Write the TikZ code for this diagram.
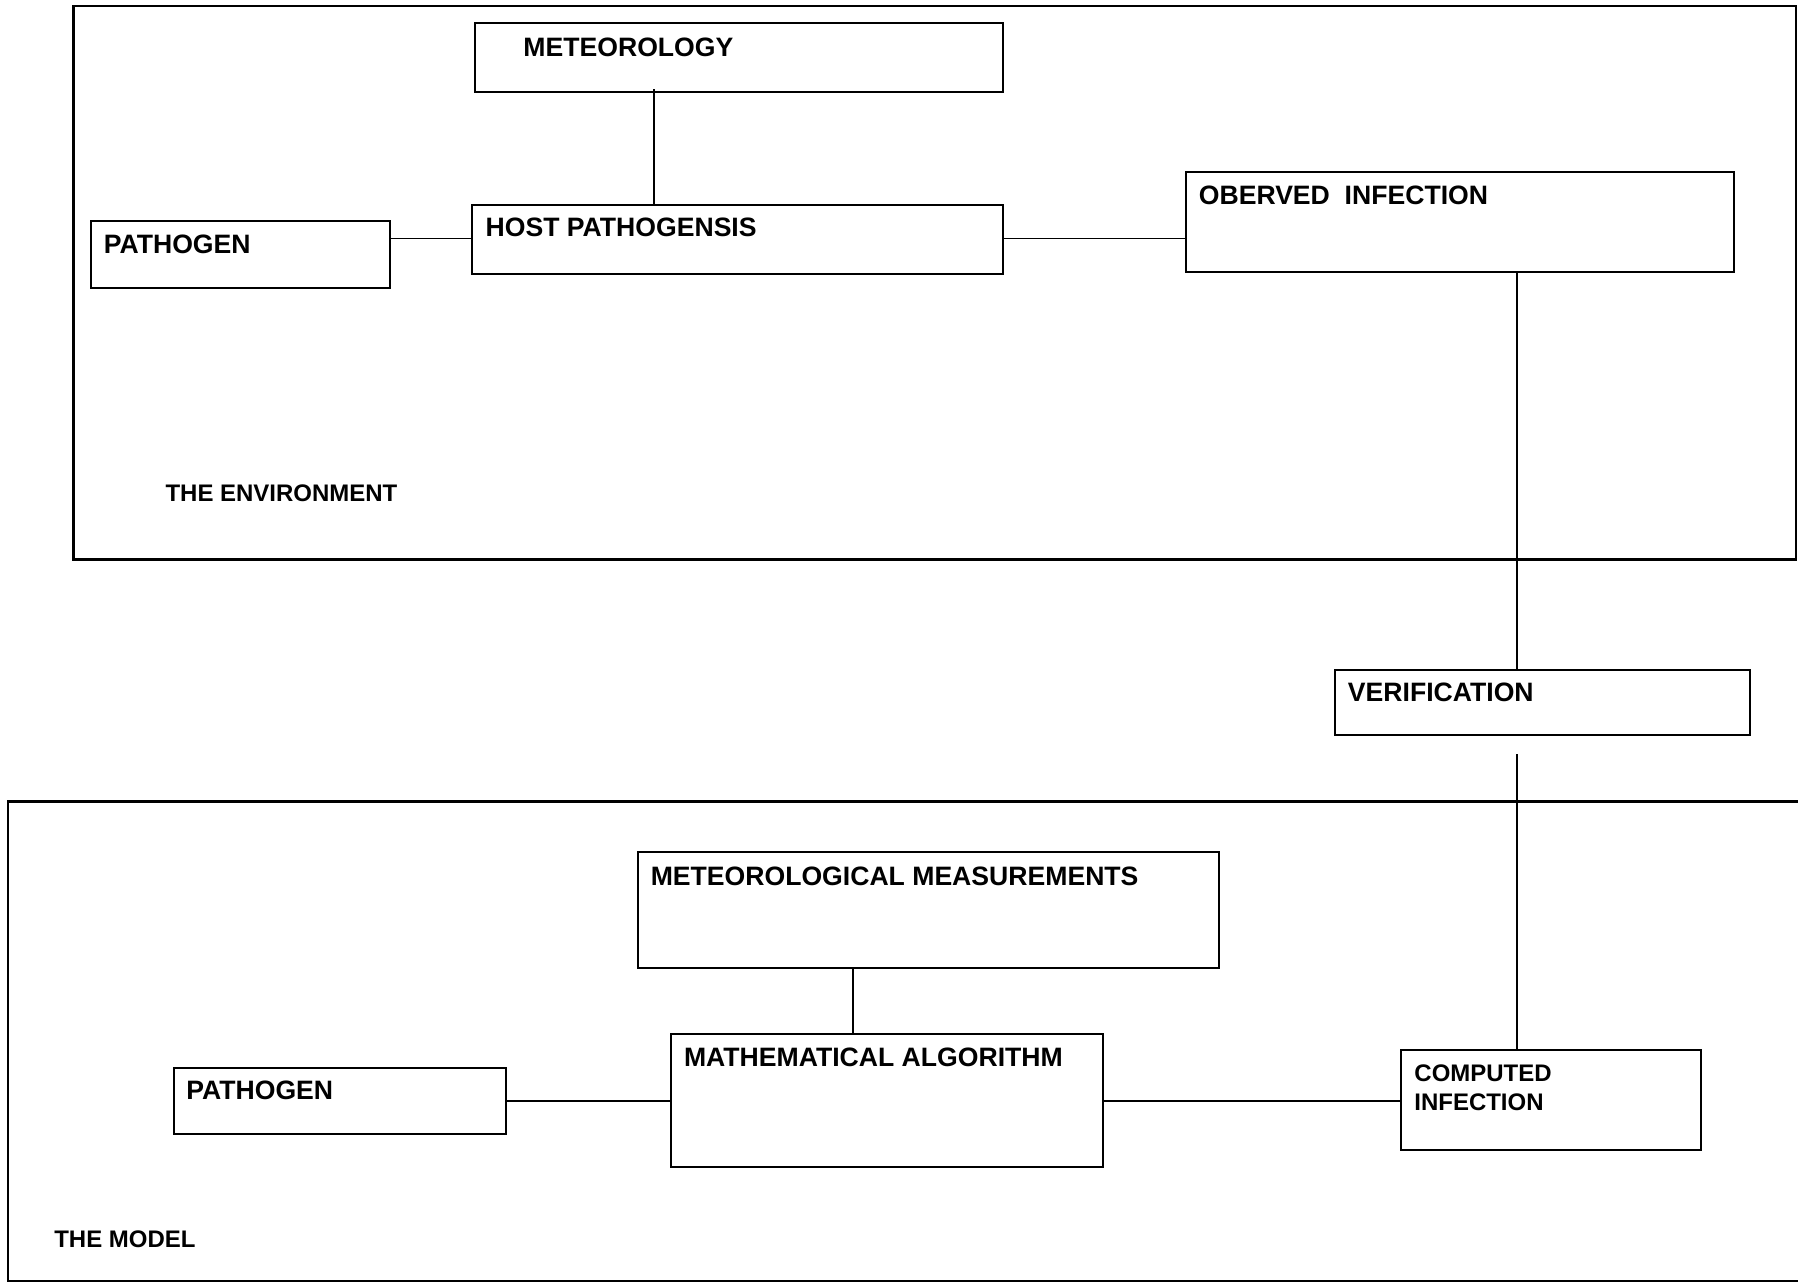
\documentclass[tikz,border=0pt]{standalone}
\usepackage{fontspec}
\setmainfont{Liberation Sans}
\usetikzlibrary{fit,calc}
\begin{document}
\begin{tikzpicture}[x=0.5pt,y=-0.5pt,
  box/.style={draw, line width=0.9pt, inner sep=0pt},
  frame/.style={draw, line width=1pt, inner sep=0pt},
  conn/.style={line width=0.8pt},
  lbl/.style={inner sep=0pt, anchor=west, font=\fontsize{11.6}{13.9}\selectfont\bfseries},
  slbl/.style={inner sep=0pt, anchor=west, font=\fontsize{10.45}{12.5}\selectfont\bfseries},
]
\useasboundingbox (0,0) rectangle (1568,1119);
\clip (0,0) rectangle (1568,1119);
\fill[white] (0,0) rectangle (1568,1119);

% frames
\node[frame, fit={(64,5) (1566,488)}] (env) {};
\node[frame, fit={(7,699) (1580,1117)}] (model) {};

% boxes
\node[box, fit={(414,20) (875,80)}] (met) {};
\node[box, fit={(412,179) (875,239)}] (host) {};
\node[box, fit={(79,193) (340,251)}] (path1) {};
\node[box, fit={(1034,150) (1512,237)}] (obs) {};
\node[box, fit={(1164,584) (1526,641)}] (ver) {};
\node[box, fit={(556,743) (1063,844)}] (mm) {};
\node[box, fit={(585,902) (962,1018)}] (ma) {};
\node[box, fit={(152,931) (441,989)}] (path2) {};
\node[box, fit={(1222,916) (1483,1003)}] (comp) {};

% texts
\node[lbl] (tmet) at ($(met.north west)+(43,22)$) {METEOROLOGY};
\node[lbl] (thost) at ($(host.north west)+(12,20)$) {HOST PATHOGENSIS};
\node[lbl] (tpath1) at ($(path1.north west)+(12,21)$) {PATHOGEN};
\node[lbl] (tobs) at ($(obs.north west)+(12,21)$) {OBERVED\ \ INFECTION};
\node[lbl] (tver) at ($(ver.north west)+(12,21)$) {VERIFICATION};
\node[lbl] (tmm) at ($(mm.north west)+(12,22)$) {METEOROLOGICAL MEASUREMENTS};
\node[lbl] (tma) at ($(ma.north west)+(12,21)$) {MATHEMATICAL ALGORITHM};
\node[lbl] (tpath2) at ($(path2.north west)+(11,21)$) {PATHOGEN};
\node[slbl, align=left, anchor=north west] (tcomp) at ($(comp.north west)+(12,13)$) {COMPUTED\\INFECTION};
\node[slbl] (tenv) at (144,430) {THE ENVIRONMENT};
\node[slbl] (tmodel) at (47,1081) {THE MODEL};

% connectors
\draw[conn] (path1.east |- 0,208) -- (host.west |- 0,208);
\draw[conn] (host.east |- 0,208) -- (obs.west |- 0,208);
\coordinate (metc) at ($(met.south west)+(157,-3)$);
\draw[conn] (metc) -- (metc |- host.north);
\coordinate (obsc) at ($(obs.south west)+(290,0)$);
\draw[conn] (obsc) -- (obsc |- ver.north);
\coordinate (vgap) at ($(ver.south west)+(160,16)$);
\draw[conn] (vgap) -- (vgap |- comp.north);
\coordinate (mmc) at ($(mm.south west)+(189,0)$);
\draw[conn] (mmc) -- (mmc |- ma.north);
\draw[conn] (path2.east) -- (ma.west |- path2.east);
\draw[conn] (ma.east) -- (comp.west |- ma.east);
\end{tikzpicture}
\end{document}
